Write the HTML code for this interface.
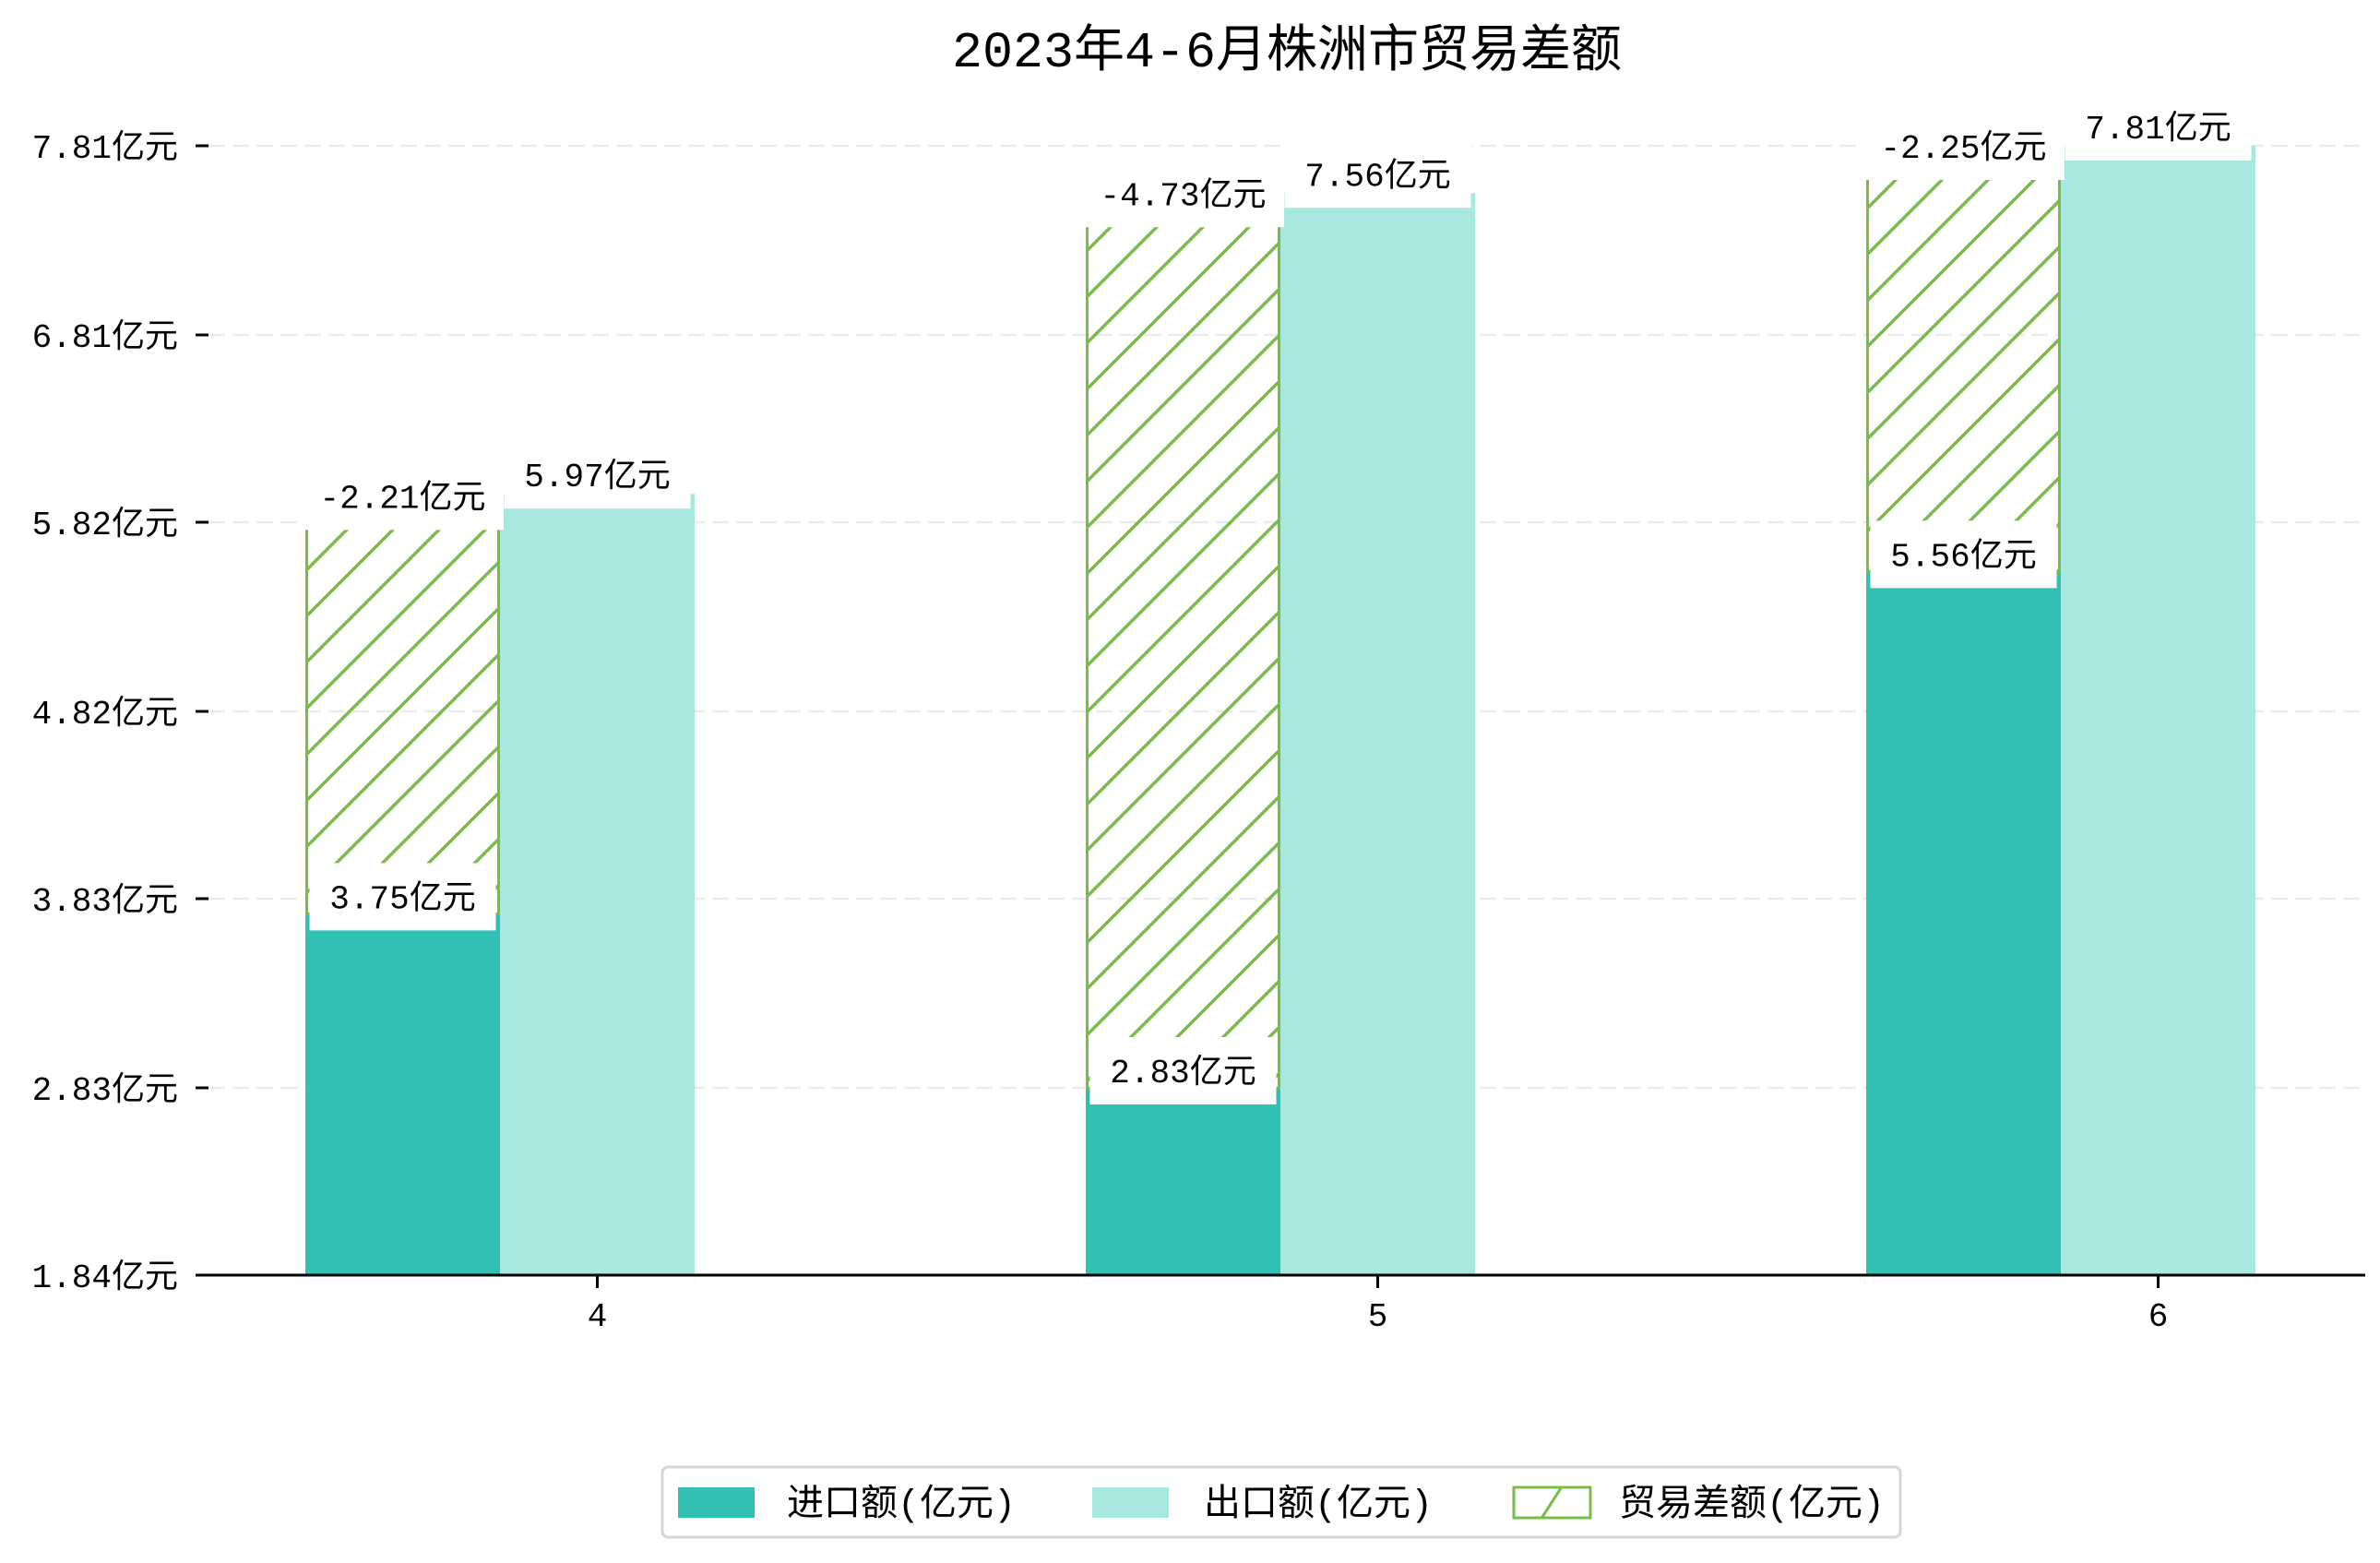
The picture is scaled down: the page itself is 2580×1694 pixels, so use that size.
<!DOCTYPE html>
<html><head><meta charset="utf-8"><style>
html,body{margin:0;padding:0;background:#fff;}
svg text{font-family:"Liberation Mono","Noto Sans CJK SC","WenQuanYi Zen Hei",monospace;}
</style></head><body>
<svg id="chart" width="2580" height="1689" viewBox="0 0 2580 1689" xmlns="http://www.w3.org/2000/svg">
<defs>
<pattern id="hatch" patternUnits="userSpaceOnUse" width="50" height="50">
<line x1="-5" y1="55" x2="55" y2="-5" stroke="#78bd45" stroke-width="3.5"/>
<line x1="-30" y1="30" x2="30" y2="-30" stroke="#78bd45" stroke-width="3.5"/>
<line x1="20" y1="80" x2="80" y2="20" stroke="#78bd45" stroke-width="3.5"/>
</pattern>
</defs>
<text x="1395" y="72" font-size="55" text-anchor="middle" fill="#000">2023年4-6月株洲市贸易差额</text>
<g id="grid"></g><g id="bars"></g><g id="labels"></g><g id="axes"></g>
<g>
<rect x="718" y="1590" width="1342" height="76" rx="6" fill="#fff" stroke="#d6d6d6" stroke-width="3"/>
<rect x="735" y="1612" width="83" height="33" fill="#30c0b4"/>
<text x="853" y="1642" font-size="40">进口额(亿元)</text>
<rect x="1184" y="1612" width="83" height="33" fill="#a9e7e1"/>
<text x="1305" y="1642" font-size="40">出口额(亿元)</text>
<rect x="1641" y="1612" width="83" height="33" fill="#fff" stroke="#78bd45" stroke-width="3"/>
<line x1="1672" y1="1644" x2="1692" y2="1613" stroke="#78bd45" stroke-width="3"/>
<text x="1755" y="1642" font-size="40">贸易差额(亿元)</text>
</g>
</svg>
<script>
const months = ['4','5','6'];
const importVals = [3.75, 2.83, 5.56];
const exportVals = [5.97, 7.56, 7.81];
const balanceVals = [-2.21, -4.73, -2.25];
const yTicks = [1.84, 2.83, 3.83, 4.82, 5.82, 6.81, 7.81];
const yTickLabels = ['1.84亿元','2.83亿元','3.83亿元','4.82亿元','5.82亿元','6.81亿元','7.81亿元'];

const NS='http://www.w3.org/2000/svg';
const yMin=1.84, yMax=7.81, py0=1382, py1=158;
function y(v){return py0-(v-yMin)/(yMax-yMin)*(py0-py1);}
const barW=211, firstLeft=331, groupStep=846;
function xGroup(i){return firstLeft+i*groupStep;}
function mk(tag,attrs,parent,txt){const e=document.createElementNS(NS,tag);for(const k in attrs)e.setAttribute(k,attrs[k]);if(txt!==undefined)e.textContent=txt;parent.appendChild(e);return e;}
const grid=document.getElementById('grid'),bars=document.getElementById('bars'),labels=document.getElementById('labels'),axes=document.getElementById('axes');
yTicks.forEach((t,i)=>{
  const gy=y(t);
  if(i>0){const g=mk('line',{x1:226,x2:2564,y1:gy,y2:gy,stroke:'#ebebeb','stroke-width':2.5,'stroke-dasharray':'18 8'},grid);
  
  }
  const tk=mk('line',{x1:212,x2:226,y1:gy,y2:gy,stroke:'#000','stroke-width':3},axes);
  
  
  const tl=mk('text',{x:193,y:gy+13,'font-size':36,'text-anchor':'end'},axes,yTickLabels[i]);
  
  
});
function label(cx,cy,txt,name,w){
  const b=mk('rect',{x:cx-w/2,y:cy-36,width:w,height:73,fill:'#fff'},labels);
  
  
  const t=mk('text',{x:cx,y:cy+13,'font-size':36,'text-anchor':'middle'},labels,txt);
  
  
}
months.forEach((m,i)=>{
  const x0=xGroup(i);
  const ib=mk('rect',{x:x0,y:y(importVals[i]),width:barW,height:py0-y(importVals[i]),fill:'#30c0b4'},bars);
  
  
  const eb=mk('rect',{x:x0+barW,y:y(exportVals[i]),width:barW,height:py0-y(exportVals[i]),fill:'#a9e7e1'},bars);
  
  
  const top=y(importVals[i]-balanceVals[i]);
  const hb=mk('rect',{x:x0+1.5,y:top,width:barW-3,height:y(importVals[i])-top,fill:'url(#hatch)',stroke:'#78bd45','stroke-width':3},bars);
  
  
  label(x0+barW/2,y(importVals[i])-19,importVals[i].toFixed(2)+'亿元','import-value-label',202);
  label(x0+barW*1.5,y(exportVals[i])-21,exportVals[i].toFixed(2)+'亿元','export-value-label',202);
  label(x0+barW/2,top,balanceVals[i].toFixed(2)+'亿元','balance-value-label',barW+8);
  const xt=x0+barW*1.5;
  const tk=mk('line',{x1:xt,x2:xt,y1:py0,y2:py0+14,stroke:'#000','stroke-width':3},axes);
  
  
  const tl=mk('text',{x:xt,y:py0+55,'font-size':36,'text-anchor':'middle'},axes,m);
  
  
});
const ax=mk('line',{x1:212,x2:2564,y1:py0,y2:py0,stroke:'#000','stroke-width':3},axes);


</script>
</body></html>
